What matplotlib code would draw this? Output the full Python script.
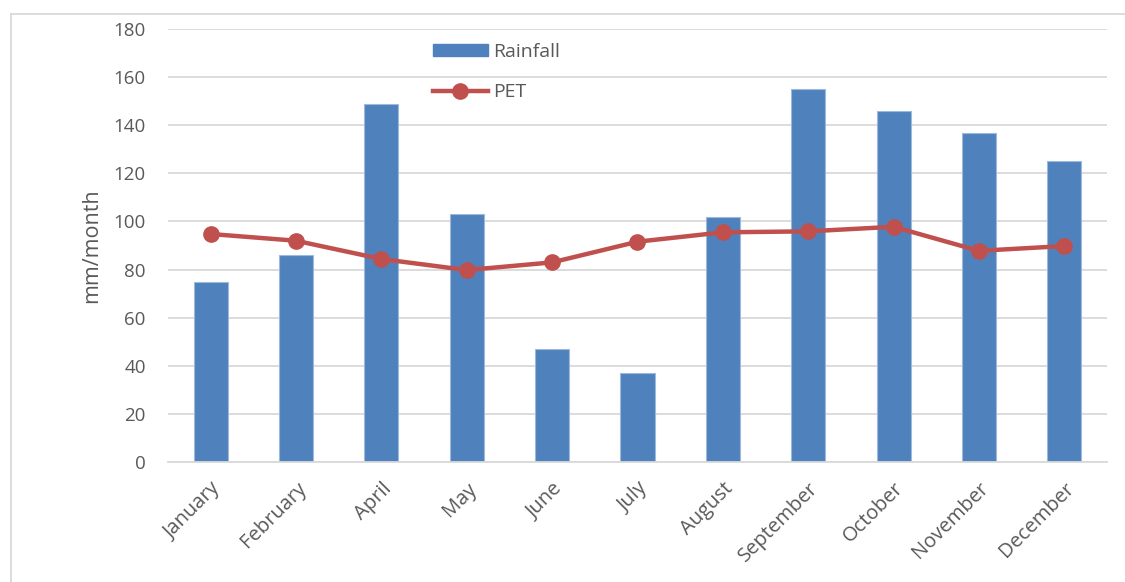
import matplotlib.pyplot as plt
import numpy as np
from matplotlib.lines import Line2D

plt.rcParams["font.family"] = ["Open Sans", "DejaVu Sans"]

months = ["January", "February", "April", "May", "June", "July",
          "August", "September", "October", "November", "December"]
rainfall = [75, 86, 149, 103, 47, 37, 102, 155, 146, 137, 125]  # mm/month
pet = [94.8, 92, 84.4, 79.8, 83, 91.6, 95.5, 95.9, 97.8, 87.8, 89.8]

bar_col = "#4F81BD"
pet_col = "#C0504D"
txt_col = "#595959"
grid_col = "#D9D9D9"

fig = plt.figure(figsize=(11.25, 5.82), dpi=100)
ax = fig.add_axes([0.1493, 0.2062, 0.8347, 0.7438])

x = np.arange(len(months))
ax.bar(x, rainfall, width=0.4, color=bar_col, edgecolor="#9DB9DD",
       linewidth=0.8, label="Rainfall", zorder=2)
ax.plot(x, pet, color=pet_col, lw=3.2, marker="o", ms=11,
        label="PET", zorder=3)

ax.set_xlim(-0.5, len(months) - 0.5)
ax.set_ylim(0, 180)
ax.set_yticks(range(0, 181, 20))
ax.yaxis.grid(True, color=grid_col, lw=1.3, zorder=0)
ax.set_axisbelow(True)
for s in ["top", "right", "left"]:
    ax.spines[s].set_visible(False)
ax.spines["bottom"].set_color(grid_col)
ax.spines["bottom"].set_linewidth(1.3)
ax.tick_params(axis="y", length=0, labelsize=13.5, colors=txt_col, pad=16)
ax.set_xticks(x)
ax.set_xticklabels(months, rotation=45, ha="right", rotation_mode="anchor")
ax.tick_params(axis="x", length=0, labelsize=14.5, colors=txt_col, pad=12)
ax.set_ylabel("mm/month", fontsize=15.5, color=txt_col, labelpad=8)

handles = [
    plt.Rectangle((0, 0), 1, 1, color=bar_col),
    Line2D([], [], color=pet_col, lw=3.2, marker="o", ms=11),
]
ax.legend(handles, ["Rainfall", "PET"], loc="upper left",
          bbox_to_anchor=(0.27, 0.995), frameon=False, fontsize=14,
          labelcolor=txt_col, handlelength=2.8, handleheight=0.6,
          handletextpad=0.3, labelspacing=1.15, borderaxespad=0.2)

# outer chart frame
fig.add_artist(Line2D([11 / 1125, 1], [1 - 13.5 / 582] * 2,
                      transform=fig.transFigure, color=grid_col, lw=1.3))
fig.add_artist(Line2D([11 / 1125] * 2, [0, 1 - 13.5 / 582],
                      transform=fig.transFigure, color=grid_col, lw=1.3))

fig.savefig("out.png", dpi=100)
